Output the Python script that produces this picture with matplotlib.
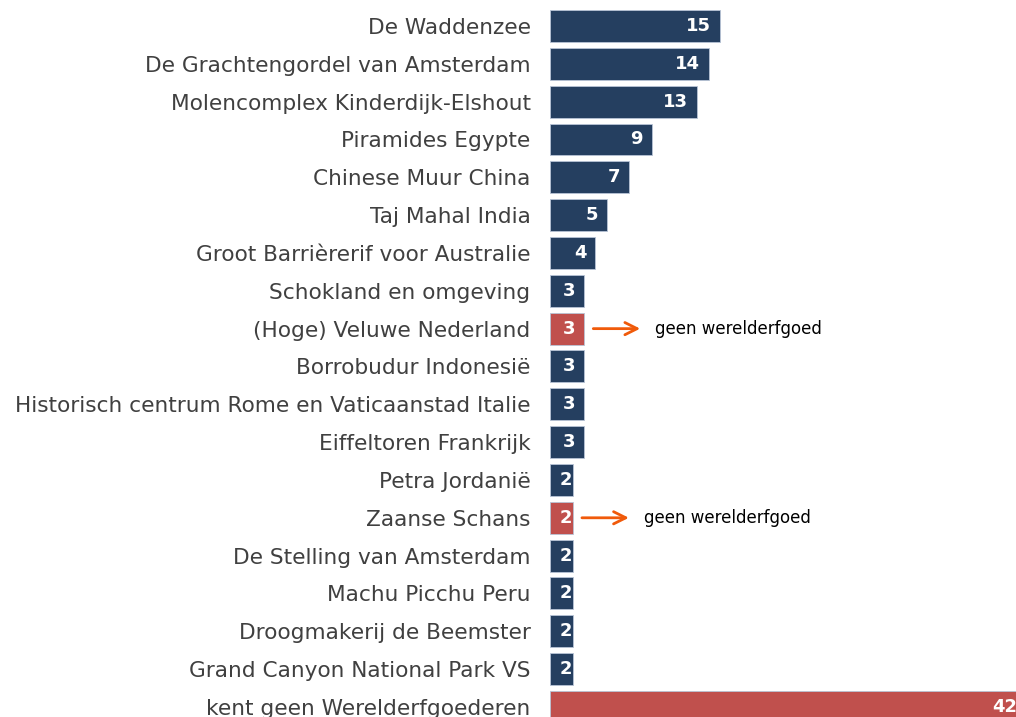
import matplotlib
matplotlib.use("Agg")
import matplotlib.pyplot as plt

categories = [
    "De Waddenzee",
    "De Grachtengordel van Amsterdam",
    "Molencomplex Kinderdijk-Elshout",
    "Piramides Egypte",
    "Chinese Muur China",
    "Taj Mahal India",
    "Groot Barrièrerif voor Australie",
    "Schokland en omgeving",
    "(Hoge) Veluwe Nederland",
    "Borrobudur Indonesië",
    "Historisch centrum Rome en Vaticaanstad Italie",
    "Eiffeltoren Frankrijk",
    "Petra Jordanië",
    "Zaanse Schans",
    "De Stelling van Amsterdam",
    "Machu Picchu Peru",
    "Droogmakerij de Beemster",
    "Grand Canyon National Park VS",
    "kent geen Werelderfgoederen",
]
values = [15, 14, 13, 9, 7, 5, 4, 3, 3, 3, 3, 3, 2, 2, 2, 2, 2, 2, 42]
highlight = [False, False, False, False, False, False, False, False, True,
             False, False, False, False, True, False, False, False, False, True]
annotated = ["(Hoge) Veluwe Nederland", "Zaanse Schans"]
note_text = "geen werelderfgoed"

NAVY = "#253F60"
RED = "#C0504D"
ORANGE = "#F05A0A"

W, H, DPI = 1016, 717, 100
fig = plt.figure(figsize=(W / DPI, H / DPI), dpi=DPI)
ax_left = 550
ax = fig.add_axes([ax_left / W, 0, (W - ax_left) / W, 1])

pxu = 11.33  # pixels per unit
row = 37.83
top = 26
ax.set_xlim(0, (W - ax_left) / pxu)
ax.set_ylim((H - top) / row, -top / row)

ypos = list(range(len(categories)))
colors = [RED if h else NAVY for h in highlight]
ax.barh(ypos, values, height=0.845, color=colors, edgecolor="#B8C4D6",
        linewidth=0.6)

pt = 72 / DPI  # points per pixel
for y, v in zip(ypos, values):
    label = str(v)
    tw = 12 * len(label)
    if v * pxu - 10 - tw < 10:
        ax.annotate(label, xy=(0, y), xytext=(10 * pt, 0),
                    textcoords="offset points", ha="left", va="center",
                    color="white", fontsize=13, fontweight="bold")
    else:
        ax.annotate(label, xy=(v, y), xytext=(-9 * pt, 0),
                    textcoords="offset points", ha="right", va="center",
                    color="white", fontsize=13, fontweight="bold",
                    annotation_clip=False)

for k, name in enumerate(annotated):
    i = categories.index(name)
    v = values[i]
    ax.annotate("", xy=(v + 59 / pxu, i), xytext=(v + 6.5 / pxu, i),
                arrowprops=dict(arrowstyle="->", color=ORANGE, lw=2,
                                mutation_scale=22))
    ax.text(v + 71 / pxu, i, note_text, ha="left", va="center",
            fontsize=12, color="black")

ax.set_yticks(ypos)
ax.set_yticklabels(categories, fontsize=15.6, color="#404040")
ax.tick_params(axis="y", length=0, pad=14)
ax.set_xticks([])
for s in ax.spines.values():
    s.set_visible(False)

fig.savefig("out.png", dpi=DPI)
